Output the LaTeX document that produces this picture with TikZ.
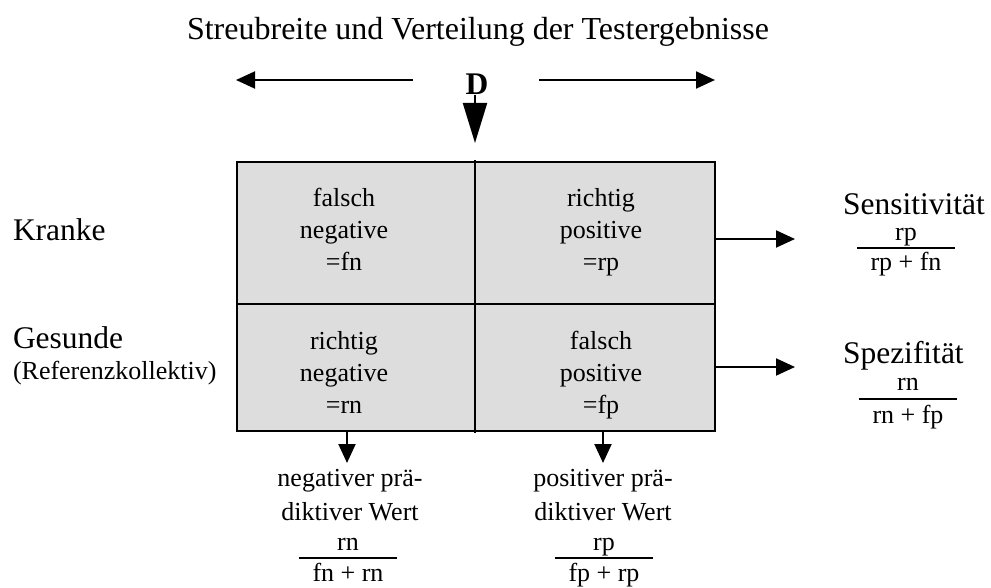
\documentclass[tikz,border=0pt]{standalone}
\usepackage{fontspec}
\setmainfont{Liberation Serif}
\usetikzlibrary{arrows.meta, positioning}

\definecolor{cellgray}{RGB}{221,221,221}

\begin{document}
\begin{tikzpicture}[x=1pt, y=-1pt,
	every node/.style={inner sep=0pt, outer sep=0pt},
	big/.style={font=\fontsize{31.5}{36}\selectfont},
	celltext/.style={font=\fontsize{26}{32}\selectfont, align=center},
	bottomtext/.style={font=\fontsize{26}{34}\selectfont, align=center},
	frac/.style={font=\fontsize{26}{30}\selectfont},
	cell/.style={draw, line width=2pt, fill=cellgray},
	fracline/.style={line width=2pt},
	arr/.style={line width=2pt, -{Triangle[length=19pt, width=17pt]}}]

			\useasboundingbox (0,0) rectangle (991,588);

			% Title and spread arrows
			\node[anchor=base, font=\fontsize{32}{36}\selectfont] (title) at (478,40) {Streubreite und Verteilung der Testergebnisse};
			\coordinate (leftstart) at (413,80);
			\coordinate (lefttip) at (236,80);
			\coordinate (rightstart) at (539,80);
			\coordinate (righttip) at (715,80);
			\draw[arr] (leftstart) -- (lefttip);
			\draw[arr] (rightstart) -- (righttip);
			% Cut-off D
			\node[big, anchor=base, font=\fontsize{31.5}{36}\selectfont\bfseries] (D) at (477,95) {D};
			\coordinate (dtip) at (475,143);
			\draw[line width=2pt, -{Triangle[length=40pt, width=24pt]}] (D.south -| dtip) -- (dtip);

			% Four-field table
			\node[cell, minimum width=238, minimum height=142] (fn) at (356,233) {};
			\node[cell, minimum width=240, minimum height=142] (rp) at (595,233) {};
			\node[cell, minimum width=238, minimum height=127] (rn) at (356,367.5) {};
			\node[cell, minimum width=240, minimum height=127] (fp) at (595,367.5) {};
			\draw[line width=2pt] ([yshift=2pt]fn.north east) -- ([yshift=-2pt]rn.south east);
			% Cell texts (base = last line)
			\node[celltext, anchor=base] (fntext) at (344,270) {falsch\\negative\\=fn};
			\node[celltext, anchor=base] (rptext) at (601,270) {richtig\\positive\\=rp};
			\node[celltext, anchor=base] (rntext) at (344,413) {richtig\\negative\\=rn};
			\node[celltext, anchor=base] (fptext) at (601,413) {falsch\\positive\\=fp};

			% Row labels
			\node[big, anchor=base west] (kranke) at (13,241) {Kranke};
			\node[big, anchor=base west] (gesunde) at (13,348) {Gesunde};
			\node[celltext, anchor=base west] (referenz) at (13,379) {(Referenzkollektiv)};

			% Sensitivity
			\coordinate (senstip) at (795,239);
			\draw[arr] (senstip -| rp.east) -- (senstip);
			\node[big, anchor=base west] (sens) at (843,215) {Sensitivität};
			\node[frac, anchor=base] (sensnum) at (906,241) {rp};
			\draw[fracline] (857,248) -- (955,248);
			\node[frac, anchor=base] (sensden) at (906,271) {rp + fn};
			% Specificity
			\coordinate (speztip) at (795,367);
			\draw[arr] (speztip -| fp.east) -- (speztip);
			\node[big, anchor=base west] (spez) at (843,363) {Spezifität};
			\node[frac, anchor=base] (speznum) at (908,390) {rn};
			\draw[fracline] (859,399) -- (957,399);
			\node[frac, anchor=base] (spezden) at (908,423) {rn + fp};

			% Negative predictive value
			\coordinate (npvtip) at (347,463);
			\draw[arr] (npvtip |- rn.south) -- (npvtip);
			\node[bottomtext, anchor=base] (npv) at (350,520) {negativer prä-\\diktiver Wert};
			\node[frac, anchor=base] (npvnum) at (348,550) {rn};
			\draw[fracline] (299,558) -- (397,558);
			\node[frac, anchor=base] (npvden) at (348,581) {fn + rn};
			% Positive predictive value
			\coordinate (ppvtip) at (603,463);
			\draw[arr] (ppvtip |- fp.south) -- (ppvtip);
			\node[bottomtext, anchor=base] (ppv) at (603,520) {positiver prä-\\diktiver Wert};
			\node[frac, anchor=base] (ppvnum) at (604,550) {rp};
			\draw[fracline] (555,558) -- (653,558);
			\node[frac, anchor=base] (ppvden) at (604,581) {fp + rp};
		\end{tikzpicture}
\end{document}
